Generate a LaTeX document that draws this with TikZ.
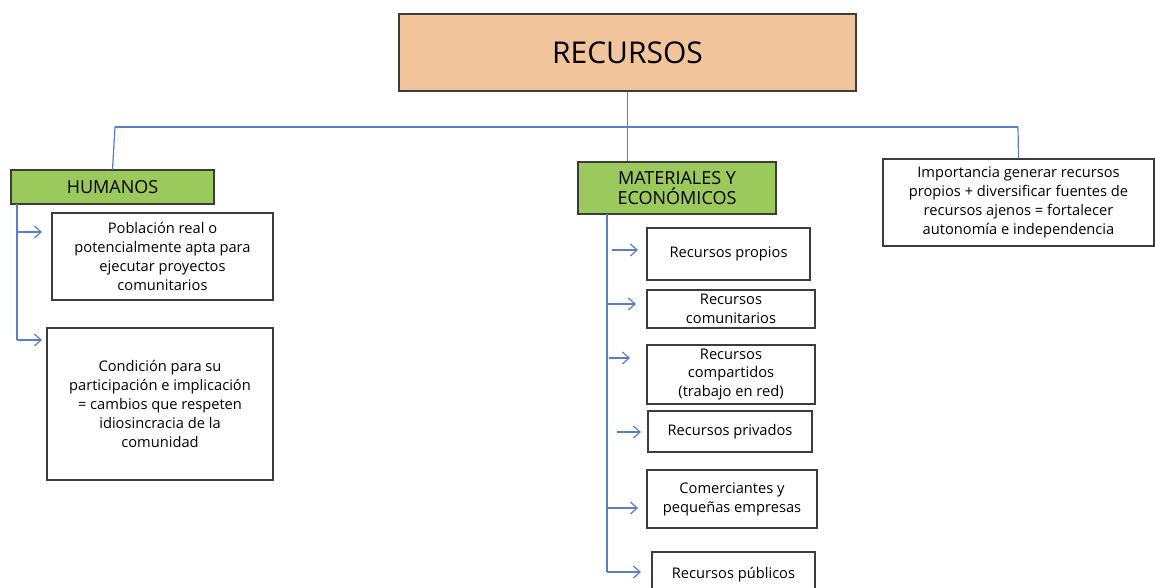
\documentclass[tikz,border=0pt]{standalone}
\usepackage{fontspec}
\setmainfont{Open Sans}
\usetikzlibrary{arrows.meta}
\definecolor{peach}{HTML}{F1C49B}
\definecolor{leaf}{HTML}{9CC95B}
\definecolor{wire}{HTML}{5A7EC4}
\definecolor{edge}{HTML}{3C3C3C}
\tikzset{
  box/.style={draw=edge, line width=1pt, fill=white, align=center, inner sep=0pt,
    font=\fontsize{11}{14.2}\selectfont},
  headbox/.style={box, fill=leaf, font=\fontsize{13.5}{15}\selectfont},
  conn/.style={draw=wire, line width=0.9pt},
  arr/.style={conn, -{Straight Barb[length=5pt,width=9pt,line width=0.9pt]}}
}
\begin{document}
\begin{tikzpicture}[x=0.75pt,y=-0.75pt]
\useasboundingbox (0,0) rectangle (1155,587);
\clip (0,0) rectangle (1155,587);
\fill[white] (0,0) rectangle (1155,587);

% top
\node[box, fill=peach, minimum width=342.75pt, minimum height=57.75pt,
  font=\fontsize{22.5}{24}\selectfont] (rec) at (627.5,52.5) {RECURSOS};

\node[headbox, minimum width=152.25pt, minimum height=25.5pt] (hum) at (112.5,187) {HUMANOS};
\node[headbox, minimum width=148.5pt, minimum height=39pt] (mat) at (677,188) {MATERIALES Y\\ECONÓMICOS};
\node[box, minimum width=203.25pt, minimum height=65.25pt] (imp) at (1018.5,202.5)
  {Importancia generar recursos\\propios + diversificar fuentes de\\recursos ajenos = fortalecer\\autonomía e independencia};

% humanos children
\node[box, minimum width=165.75pt, minimum height=65.25pt] (h1) at (162.5,256.5)
  {Población real o\\potencialmente apta para\\ejecutar proyectos\\comunitarios};
\node[box, minimum width=169.5pt, minimum height=114pt] (h2) at (160,404)
  {Condición para su\\participación e implicación\\= cambios que respeten\\idiosincracia de la\\comunidad};

% materiales children
\node[box, minimum width=122.25pt, minimum height=39pt] (m1) at (728.5,254) {Recursos propios};
\node[box, minimum width=126pt, minimum height=28.5pt] (m2) at (731,309) {Recursos\\comunitarios};
\node[box, minimum width=126pt, minimum height=44.25pt] (m3) at (731,374.5) {Recursos\\compartidos\\(trabajo en red)};
\node[box, minimum width=123pt, minimum height=30.75pt] (m4) at (730,431.5) {Recursos privados};
\node[box, minimum width=127.5pt, minimum height=43.5pt] (m5) at (732,499) {Comerciantes y\\pequeñas empresas};
\node[box, minimum width=122.25pt, minimum height=34.5pt] (m6) at (733.5,575) {Recursos públicos};

% bus
\coordinate (busL) at (115,127);
\coordinate (busR) at (1018,127);
\draw[conn] (busL) -- (busR);
\draw[conn] (rec.south) -- (rec.south |- mat.north);
\draw[conn] (busL) -- (hum.north);
\draw[conn] (busR) -- (imp.north);

% humanos spine
\coordinate (hs0) at (17,204);
\coordinate (hs1) at (17,232);
\coordinate (hs2) at (17,340);
\coordinate (ha1) at (42,232);
\coordinate (ha2) at (42,340);
\draw[conn] (hs0) -- (hs2);
\draw[arr] (hs1) -- (ha1);
\draw[arr] (hs2) -- (ha2);

% materiales spine
\coordinate (ms0) at (607,214);
\coordinate (ms6) at (607,572);
\draw[conn] (ms0) -- (ms6);
\coordinate (a1s) at (612,250); \coordinate (a1e) at (638,250);
\coordinate (a2s) at (607,304); \coordinate (a2e) at (636,304);
\coordinate (a3s) at (609,358); \coordinate (a3e) at (630,358);
\coordinate (a4s) at (617,432); \coordinate (a4e) at (641,432);
\coordinate (a5s) at (607,508); \coordinate (a5e) at (638,508);
\coordinate (a6e) at (641,572);
\draw[arr] (a1s) -- (a1e);
\draw[arr] (a2s) -- (a2e);
\draw[arr] (a3s) -- (a3e);
\draw[arr] (a4s) -- (a4e);
\draw[arr] (a5s) -- (a5e);
\draw[arr] (ms6) -- (a6e);
\end{tikzpicture}
\end{document}
